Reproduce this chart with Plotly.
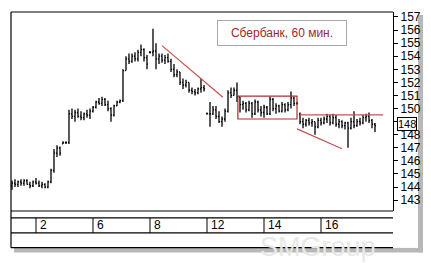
import plotly.graph_objects as go

# ---- data (hourly bars, Sberbank 60 min) ----
opens = [144.1,144.3,144.2,144.4,144.3,144.5,144.2,144.1,144.4,144.3,144.1,144.2,144.0,144.4,145.3,146.6,147.0,147.3,147.4,147.4,
         149.6,149.4,149.7,149.4,149.3,149.6,149.5,149.8,150.1,150.5,150.4,150.7,150.3,150.0,149.5,150.2,150.5,150.6,152.9,153.8,
         153.6,154.0,153.8,154.3,154.5,153.9,154.3,154.3,154.4,153.8,154.0,153.7,153.9,153.6,153.0,152.6,152.8,152.0,151.8,152.0,
         151.4,151.3,151.2,151.5,151.6,149.6,149.6,149.6,149.9,149.4,149.0,149.2,149.8,151.2,151.0,151.4,150.9,150.3,150.4,149.9,
         150.4,149.6,150.5,149.9,149.7,150.1,149.6,150.7,150.0,150.2,149.8,150.3,149.9,150.3,150.8,150.4,149.6,149.0,148.8,149.1,
         148.9,149.0,148.6,149.1,148.9,149.2,149.4,148.9,149.3,148.8,149.0,148.7,148.9,148.5,149.0,148.7,149.0,148.9,149.3,149.4,
         149.1,148.8]
highs = [144.5,144.6,144.5,144.6,144.6,144.6,144.4,144.5,144.7,144.5,144.4,144.3,144.5,145.4,146.9,147.2,147.1,147.5,147.5,149.9,
         150.0,149.9,150.0,149.8,149.7,149.9,150.0,150.2,150.6,150.8,150.9,150.8,150.6,150.1,150.3,150.6,150.7,153.0,154.0,154.2,
         154.2,154.3,154.5,154.9,154.6,154.1,154.4,156.1,155.0,154.2,154.2,154.1,154.2,153.8,153.4,153.0,152.8,152.3,152.2,152.0,
         151.6,151.5,151.6,152.3,151.8,149.7,150.5,150.2,150.2,149.8,149.4,150.0,151.4,151.6,151.6,152.0,150.9,150.6,150.5,150.6,
         150.5,150.7,150.6,150.2,150.3,150.2,150.9,150.8,150.4,150.3,150.5,150.4,150.5,151.3,150.9,150.5,149.7,149.3,149.2,149.3,
         149.2,149.0,149.3,149.3,149.4,149.6,149.5,149.6,149.5,149.2,149.1,149.0,149.0,149.3,149.8,149.2,149.3,149.5,149.6,149.7,
         149.2,148.9]
lows = [143.8,144.0,144.0,144.1,144.1,144.2,143.9,144.0,144.2,144.0,143.9,143.9,143.9,144.3,145.1,146.3,146.4,147.3,147.3,147.3,
        149.2,149.0,149.3,149.1,149.1,149.3,149.2,149.7,150.0,150.3,150.2,150.2,149.8,149.0,149.4,150.2,150.4,150.5,152.9,153.4,
        153.5,153.6,153.6,154.0,153.6,153.0,154.2,154.0,153.0,153.4,153.5,153.4,153.5,152.8,152.4,152.4,151.8,151.5,151.6,151.2,
        151.1,151.0,151.1,151.2,151.3,149.6,148.6,149.5,149.2,148.9,148.6,149.0,149.7,150.8,151.0,150.5,149.7,149.9,149.7,149.8,
        149.3,149.5,149.7,149.4,149.3,149.5,149.5,149.8,149.6,149.7,149.7,149.7,149.8,150.0,150.2,150.3,148.8,148.5,148.6,148.7,
        148.6,148.0,148.5,148.7,148.8,148.9,148.7,148.8,148.6,148.5,148.5,148.4,147.0,148.4,148.5,148.6,148.7,148.8,149.0,148.9,
        148.5,148.2]
closes = [144.3,144.2,144.4,144.3,144.5,144.2,144.1,144.4,144.3,144.1,144.2,144.0,144.4,145.3,146.6,147.0,146.6,147.4,147.4,149.6,
          149.4,149.7,149.4,149.3,149.6,149.5,149.8,150.1,150.5,150.4,150.7,150.3,150.0,149.5,150.2,150.5,150.6,152.9,153.8,153.6,
          154.0,153.8,154.3,154.5,153.9,153.4,154.3,154.4,153.8,154.0,153.7,153.9,153.6,153.0,152.6,152.8,152.0,151.8,152.0,151.4,
          151.3,151.2,151.5,151.6,151.5,149.6,149.6,149.9,149.4,149.0,149.2,149.8,151.2,151.0,151.4,150.9,150.3,150.4,149.9,150.4,
          149.6,150.5,149.9,149.7,150.1,149.6,150.7,150.0,150.2,149.8,150.3,149.9,150.3,150.8,150.4,150.4,149.0,148.8,149.1,148.9,
          149.0,148.6,149.1,148.9,149.2,149.4,148.9,149.3,148.8,149.0,148.7,148.9,148.5,149.0,148.7,149.0,148.9,149.3,149.4,149.1,
          148.8,148.7]
bar_index = list(range(len(opens)))

# date strip: separator bar index and labels
day_sep = [8, 27, 46, 65, 84, 103]
day_labels = ["2", "6", "8", "12", "14", "16"]

y_ticks = list(range(143, 158))
# tick 149 is hidden behind the last-price box in the reference
y_ticktext = ["" if v == 149 else str(v) for v in y_ticks]
last_price_label = "148"
last_price = 148.85

# drawn analysis lines (bar index, price)
trend_down1 = [(50, 154.81), (70.3, 150.87)]
range_box = [(75.3, 149.2), (95, 150.95)]
resist_line = [(96, 149.51), (123.7, 149.51)]
trend_down2 = [(95, 148.45), (110, 146.93)]

title_text = "Сбербанк, 60 мин."

fig = go.Figure()
fig.add_trace(go.Ohlc(
    x=bar_index, open=opens, high=highs, low=lows, close=closes,
    increasing=dict(line=dict(color="black", width=1.3)),
    decreasing=dict(line=dict(color="black", width=1.3)),
    tickwidth=0.35, hoverinfo="skip", showlegend=False))

red = "#c85050"
shapes = []
for seg in (trend_down1, trend_down2, resist_line):
    shapes.append(dict(type="line", xref="x", yref="y", x0=seg[0][0], y0=seg[0][1],
                       x1=seg[1][0], y1=seg[1][1], line=dict(color=red, width=1.2)))
shapes.append(dict(type="rect", xref="x", yref="y", x0=range_box[0][0], y0=range_box[0][1],
                   x1=range_box[1][0], y1=range_box[1][1], line=dict(color="#a83030", width=1.2)))

# frame (pixel-derived paper coords)
def py(p):  # pixel y -> paper y
    return (211 - p) / 201.0
def px(p):  # pixel x -> paper x
    return (p - 11) / 382.0

blk = dict(color="black", width=1.2)
# shadows
shapes.append(dict(type="rect", xref="paper", yref="paper", x0=px(418), x1=px(423), y0=py(253), y1=py(13),
                   line=dict(width=0), fillcolor="#b8b8b8", layer="below"))
shapes.append(dict(type="rect", xref="paper", yref="paper", x0=px(14), x1=px(423), y0=py(253), y1=py(248),
                   line=dict(width=0), fillcolor="#b8b8b8", layer="below"))
shapes.append(dict(type="rect", xref="paper", yref="paper", x0=px(11), x1=px(418), y0=py(248), y1=py(10),
                   line=dict(width=0), fillcolor="white", layer="below"))
shapes.append(dict(type="line", xref="paper", yref="paper", x0=0, x1=1, y0=1, y1=1, line=blk))
shapes.append(dict(type="line", xref="paper", yref="paper", x0=0, x1=0, y0=py(248), y1=1, line=blk))
shapes.append(dict(type="line", xref="paper", yref="paper", x0=0, x1=1, y0=0, y1=0, line=blk))
shapes.append(dict(type="line", xref="paper", yref="paper", x0=0, x1=1, y0=py(218), y1=py(218), line=blk))
shapes.append(dict(type="line", xref="paper", yref="paper", x0=0, x1=1, y0=py(233), y1=py(233), line=blk))
shapes.append(dict(type="line", xref="paper", yref="paper", x0=0, x1=1, y0=py(248), y1=py(248), line=blk))
for s in day_sep:
    shapes.append(dict(type="line", xref="x", yref="paper", x0=s, x1=s, y0=py(233), y1=py(218),
                       line=dict(color="black", width=1)))

annotations = []
# watermark first (drawn underneath other texts)
annotations.append(dict(x=px(318), y=py(247), xref="paper", yref="paper", text="SMGroup",
                        xanchor="center", yanchor="middle",
                        showarrow=False, font=dict(family="Liberation Sans, Arial", size=27, color="#e8e8e8")))
for s, lab in zip(day_sep, day_labels):
    annotations.append(dict(x=s, xref="x", y=py(225.5), yref="paper", text=lab, showarrow=False,
                            xanchor="left", yanchor="middle", xshift=2,
                            font=dict(family="Liberation Sans, Arial", size=12, color="black")))
annotations.append(dict(x=px(282), y=py(31), xref="paper", yref="paper", text=title_text, showarrow=False,
                        xanchor="center", yanchor="middle",
                        width=124, height=20, bordercolor="#a8a8a8", borderwidth=1, borderpad=2,
                        font=dict(family="Liberation Sans, Arial", size=12, color="#a02828")))
annotations.append(dict(x=px(397), y=last_price, xref="paper", yref="y", text=last_price_label,
                        showarrow=False, xanchor="left", yanchor="middle", bgcolor="white",
                        bordercolor="black", borderwidth=1, borderpad=0,
                        font=dict(family="Liberation Sans, Arial", size=11, color="black")))

fig.update_layout(
    width=431, height=263, margin=dict(l=11, r=38, t=10, b=52),
    paper_bgcolor="white", plot_bgcolor="white",
    shapes=shapes, annotations=annotations, showlegend=False,
    xaxis=dict(range=[-0.33, 127], showgrid=False, zeroline=False, showticklabels=False,
               ticks="", rangeslider=dict(visible=False), fixedrange=True),
    yaxis=dict(range=[142.17, 157.38], side="right", showgrid=False, zeroline=False,
               tickmode="array", tickvals=y_ticks, ticktext=y_ticktext,
               ticks="outside", ticklen=4, tickcolor="black", tickwidth=1,
               showline=True, linecolor="black", linewidth=1.2,
               tickfont=dict(family="Liberation Sans, Arial", size=12, color="black")),
)
fig.write_html("out.html")
